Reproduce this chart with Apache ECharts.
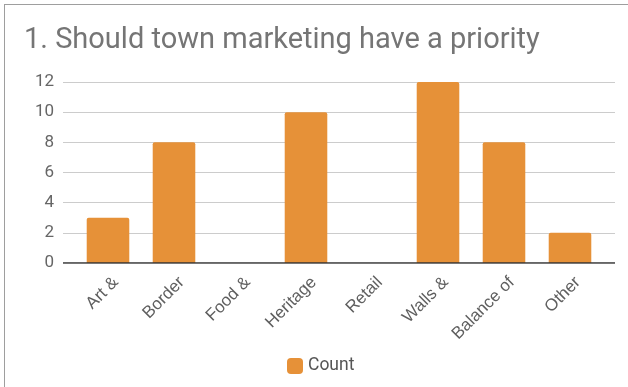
<!DOCTYPE html>
<html><head><meta charset="utf-8">
<script src="https://cdn.jsdelivr.net/npm/echarts@6/dist/echarts.min.js"></script>
<style>
html,body{margin:0;padding:0;background:#fff;}
#frame{position:absolute;left:4px;top:4px;width:624px;height:383px;border-left:1.5px solid #9e9e9e;border-top:1.5px solid #9e9e9e;box-sizing:border-box;}
#c{position:absolute;left:0;top:0;width:628px;height:387px;}
</style></head>
<body>
<div id="c"></div>
<div id="frame"></div>
<script>
const titleText = "1. Should town marketing have a priority";
const categories = ["Art &", "Border", "Food &", "Heritage", "Retail", "Walls &", "Balance of", "Other"];
const counts = [3, 8, 0, 10, 0, 12, 8, 2];
const seriesName = "Count";
const yMin = 0, yMax = 12, yStep = 2;

const chart = echarts.init(document.getElementById('c'));
chart.setOption({
  animation: false,
  title: {
    text: titleText, left: 19, top: 21,
    textStyle: { fontFamily: 'Roboto', fontSize: 29, fontWeight: 'normal', color: '#757575' }
  },
  legend: {
    data: [seriesName], left: 282, top: 352,
    itemWidth: 16, itemHeight: 16, itemGap: 11,
    textStyle: { fontFamily: 'Roboto', fontSize: 17.5, color: '#555' }
  },
  grid: [
    { left: 63, width: 552, top: 82, height: 181, containLabel: false },
    { left: 75, width: 528, top: 82, height: 181, containLabel: false }
  ],
  xAxis: [
    { type: 'value', gridIndex: 0, min: 0, max: 1, show: true,
      axisLine: { show: false }, axisTick: { show: false }, axisLabel: { show: false }, splitLine: { show: false } },
    { type: 'category', gridIndex: 1, data: categories,
      axisLine: { show: false }, axisTick: { show: false },
      axisLabel: { rotate: 45, interval: 0, margin: 9, verticalAlign: 'top', lineHeight: 22,
        fontFamily: 'Liberation Sans', fontSize: 17, color: '#5f5f5f' } }
  ],
  yAxis: [
    { type: 'value', gridIndex: 0, min: yMin, max: yMax, interval: yStep,
      axisLine: { show: false }, axisTick: { show: false },
      axisLabel: { margin: 9, fontFamily: 'Roboto', fontSize: 17, color: '#666' },
      splitLine: { lineStyle: { color: '#cccccc', width: 1 } } },
    { type: 'value', gridIndex: 1, min: yMin, max: yMax, interval: yStep, show: false, splitLine: { show: false } }
  ],
  series: [
    { name: 'baseline', type: 'line', xAxisIndex: 0, yAxisIndex: 0, data: [[0, 0], [1, 0]],
      symbol: 'none', silent: true, lineStyle: { color: '#333', width: 1.5 }, z: 3 },
    { name: seriesName, type: 'bar', xAxisIndex: 1, yAxisIndex: 1, data: counts,
      barWidth: '64.5%', itemStyle: { color: '#e69138', borderRadius: [2, 2, 0, 0] }, z: 2 }
  ]
});
</script>
</body></html>
